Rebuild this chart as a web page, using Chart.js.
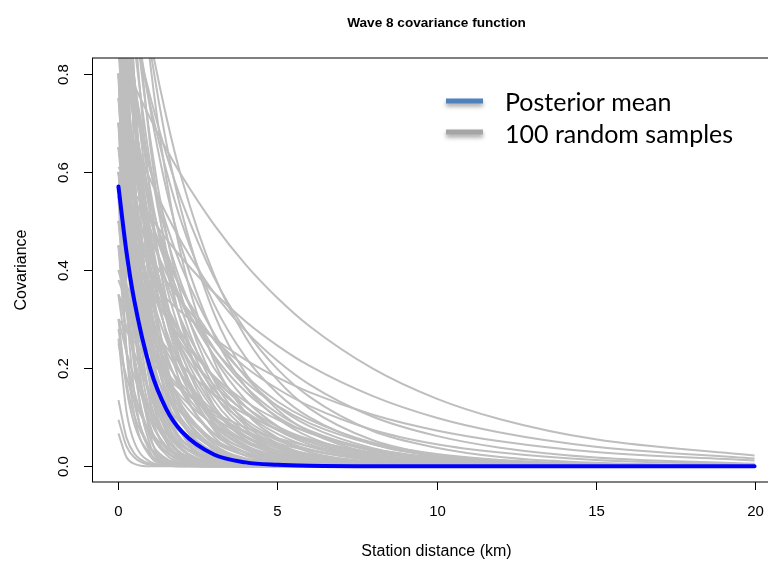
<!DOCTYPE html>
<html>
<head>
<meta charset="utf-8">
<script src="https://cdn.jsdelivr.net/npm/chart.js@4.4.1/dist/chart.umd.min.js"></script>
<style>
html, body { margin: 0; padding: 0; overflow: hidden; background: #fff; }
canvas { display: block; }
</style>
</head>
<body>
<canvas id="covChart" width="800" height="563"></canvas>
<script>
// 텍스트
const chartTitle = 'Wave 8 covariance function';
const xTitle = 'Station distance (km)';
const yTitle = 'Covariance';
const legendLabels = ['Posterior mean', '100 random samples'];
const xTicks = [0, 5, 10, 15, 20];
const yTicks = [0, 0.2, 0.4, 0.6, 0.8];

// 곡선을 읽은 거리 (km)
const distances = [0, 0.25, 0.5, 1, 1.5, 2, 3, 4, 5, 6, 8, 10, 12, 15, 20];

// 파란 선: posterior mean
const posteriorMean = [0.57, 0.438, 0.337, 0.199, 0.117, 0.070, 0.024, 0.008, 0.003, 0.001, 0, 0, 0, 0, 0];

// 회색 선: random samples (같은 거리에서 읽은 값)
const sampleCurves = [
    [0.85, 0.813, 0.776, 0.709, 0.647, 0.591, 0.493, 0.411, 0.343, 0.286, 0.199, 0.138, 0.096, 0.055, 0.022],
    [0.61, 0.583, 0.557, 0.509, 0.464, 0.424, 0.354, 0.295, 0.246, 0.205, 0.143, 0.099, 0.069, 0.040, 0.016],
    [0.75, 0.704, 0.662, 0.584, 0.515, 0.455, 0.354, 0.276, 0.215, 0.167, 0.101, 0.062, 0.038, 0.018, 0.005],
    [0.45, 0.430, 0.411, 0.375, 0.342, 0.313, 0.261, 0.217, 0.181, 0.151, 0.105, 0.073, 0.051, 0.029, 0.012],
    [1.3, 1.177, 1.065, 0.871, 0.714, 0.584, 0.391, 0.263, 0.176, 0.118, 0.053, 0.023, 0.011, 0.003, 0],
    [1.05, 0.966, 0.888, 0.753, 0.637, 0.539, 0.386, 0.277, 0.198, 0.142, 0.072, 0.038, 0.019, 0.007, 0.001],
    [1.1, 0.996, 0.901, 0.737, 0.604, 0.494, 0.331, 0.222, 0.149, 0.100, 0.045, 0.020, 0.009, 0.003, 0],
    [0.55, 0.516, 0.485, 0.428, 0.378, 0.334, 0.260, 0.202, 0.158, 0.123, 0.074, 0.045, 0.028, 0.013, 0.004],
    [0.9, 0.815, 0.737, 0.603, 0.494, 0.404, 0.271, 0.182, 0.122, 0.082, 0.037, 0.016, 0.007, 0.002, 0],
    [1.4, 1.235, 1.091, 0.850, 0.661, 0.515, 0.312, 0.189, 0.115, 0.070, 0.025, 0.009, 0.004, 0.001, 0],
    [0.7, 0.644, 0.592, 0.502, 0.425, 0.359, 0.258, 0.185, 0.132, 0.095, 0.048, 0.025, 0.013, 0.005, 0.001],
    [1.2, 1.058, 0.935, 0.728, 0.566, 0.442, 0.268, 0.162, 0.098, 0.060, 0.022, 0.008, 0.003, 0.001, 0],
    [0.5, 0.46, 0.423, 0.359, 0.304, 0.257, 0.184, 0.132, 0.095, 0.068, 0.035, 0.018, 0.009, 0.003, 0.001],
    [1.6, 1.354, 1.147, 0.821, 0.589, 0.422, 0.216, 0.110, 0.058, 0.029, 0.008, 0.002, 0, 0, 0],
    [0.8, 0.706, 0.623, 0.486, 0.378, 0.294, 0.178, 0.108, 0.066, 0.040, 0.014, 0.005, 0.002, 0, 0],
    [0.6, 0.543, 0.491, 0.402, 0.329, 0.269, 0.181, 0.121, 0.081, 0.055, 0.025, 0.011, 0.005, 0.002, 0],
    [1, 0.846, 0.717, 0.513, 0.368, 0.264, 0.135, 0.069, 0.036, 0.018, 0.005, 0.001, 0, 0, 0],
    [0.4, 0.368, 0.338, 0.287, 0.243, 0.205, 0.147, 0.106, 0.076, 0.054, 0.028, 0.014, 0.007, 0.003, 0.001],
    [0.7, 0.617, 0.545, 0.425, 0.330, 0.258, 0.156, 0.095, 0.057, 0.035, 0.013, 0.005, 0.002, 0, 0],
    [1.3, 1.1, 0.932, 0.667, 0.478, 0.343, 0.176, 0.090, 0.047, 0.023, 0.006, 0.002, 0, 0, 0],
    [0.9, 0.761, 0.645, 0.462, 0.331, 0.238, 0.122, 0.062, 0.032, 0.016, 0.004, 0.001, 0, 0, 0],
    [0.5, 0.441, 0.390, 0.304, 0.236, 0.184, 0.112, 0.068, 0.041, 0.025, 0.009, 0.003, 0.001, 0, 0],
    [1.1, 0.893, 0.725, 0.479, 0.316, 0.208, 0.090, 0.040, 0.017, 0.007, 0.001, 0, 0, 0, 0],
    [0.75, 0.635, 0.538, 0.385, 0.276, 0.198, 0.101, 0.052, 0.027, 0.014, 0.004, 0.001, 0, 0, 0],
    [0.6, 0.508, 0.430, 0.308, 0.221, 0.158, 0.081, 0.041, 0.022, 0.011, 0.003, 0.001, 0, 0, 0],
    [0.35, 0.317, 0.287, 0.235, 0.192, 0.157, 0.105, 0.071, 0.047, 0.032, 0.014, 0.006, 0.003, 0.001, 0],
    [1.5, 1.218, 0.989, 0.653, 0.431, 0.284, 0.123, 0.054, 0.023, 0.010, 0.002, 0, 0, 0, 0],
    [0.8, 0.650, 0.527, 0.348, 0.230, 0.151, 0.066, 0.029, 0.012, 0.005, 0.001, 0, 0, 0, 0],
    [0.65, 0.528, 0.428, 0.283, 0.187, 0.123, 0.053, 0.023, 0.010, 0.004, 0.001, 0, 0, 0, 0],
    [0.5, 0.423, 0.359, 0.257, 0.184, 0.132, 0.068, 0.035, 0.018, 0.009, 0.002, 0.001, 0, 0, 0],
    [0.45, 0.365, 0.297, 0.196, 0.129, 0.085, 0.037, 0.016, 0.007, 0.003, 0.001, 0, 0, 0, 0],
    [1.2, 0.935, 0.728, 0.442, 0.268, 0.162, 0.060, 0.022, 0.008, 0.003, 0, 0, 0, 0, 0],
    [0.9, 0.701, 0.546, 0.331, 0.201, 0.122, 0.045, 0.016, 0.006, 0.002, 0, 0, 0, 0, 0],
    [0.7, 0.545, 0.425, 0.258, 0.156, 0.095, 0.035, 0.013, 0.005, 0.002, 0, 0, 0, 0, 0],
    [0.55, 0.428, 0.334, 0.202, 0.123, 0.074, 0.028, 0.010, 0.004, 0.001, 0, 0, 0, 0, 0],
    [0.4, 0.338, 0.287, 0.205, 0.147, 0.106, 0.054, 0.028, 0.014, 0.007, 0.002, 0.001, 0, 0, 0],
    [1, 0.757, 0.574, 0.329, 0.189, 0.108, 0.036, 0.012, 0.004, 0.001, 0, 0, 0, 0, 0],
    [0.8, 0.606, 0.459, 0.263, 0.151, 0.086, 0.029, 0.010, 0.003, 0.001, 0, 0, 0, 0, 0],
    [0.6, 0.454, 0.344, 0.197, 0.113, 0.065, 0.022, 0.007, 0.002, 0.001, 0, 0, 0, 0, 0],
    [0.35, 0.284, 0.231, 0.152, 0.100, 0.066, 0.029, 0.013, 0.005, 0.002, 0, 0, 0, 0, 0],
    [1.4, 1.025, 0.749, 0.402, 0.214, 0.115, 0.033, 0.009, 0.003, 0.001, 0, 0, 0, 0, 0],
    [1.1, 0.805, 0.589, 0.316, 0.168, 0.090, 0.026, 0.007, 0.002, 0.001, 0, 0, 0, 0, 0],
    [0.85, 0.622, 0.455, 0.244, 0.130, 0.070, 0.020, 0.006, 0.002, 0, 0, 0, 0, 0, 0],
    [0.65, 0.476, 0.348, 0.187, 0.099, 0.053, 0.015, 0.004, 0.001, 0, 0, 0, 0, 0, 0],
    [0.5, 0.366, 0.268, 0.144, 0.077, 0.041, 0.012, 0.003, 0.001, 0, 0, 0, 0, 0, 0],
    [1.6, 1.12, 0.784, 0.384, 0.189, 0.091, 0.022, 0.005, 0.001, 0, 0, 0, 0, 0, 0],
    [1.2, 0.84, 0.588, 0.288, 0.142, 0.068, 0.017, 0.004, 0.001, 0, 0, 0, 0, 0, 0],
    [0.95, 0.665, 0.466, 0.228, 0.112, 0.054, 0.013, 0.003, 0.001, 0, 0, 0, 0, 0, 0],
    [0.75, 0.525, 0.368, 0.180, 0.089, 0.043, 0.011, 0.002, 0.001, 0, 0, 0, 0, 0, 0],
    [0.45, 0.315, 0.221, 0.108, 0.053, 0.026, 0.006, 0.001, 0, 0, 0, 0, 0, 0, 0],
    [1.8, 1.186, 0.783, 0.340, 0.148, 0.065, 0.012, 0.002, 0, 0, 0, 0, 0, 0, 0],
    [1.3, 0.857, 0.566, 0.246, 0.107, 0.047, 0.009, 0.002, 0, 0, 0, 0, 0, 0, 0],
    [1, 0.659, 0.435, 0.189, 0.082, 0.036, 0.007, 0.001, 0, 0, 0, 0, 0, 0, 0],
    [0.7, 0.461, 0.305, 0.132, 0.057, 0.025, 0.005, 0.001, 0, 0, 0, 0, 0, 0, 0],
    [0.5, 0.330, 0.218, 0.095, 0.041, 0.018, 0.003, 0.001, 0, 0, 0, 0, 0, 0, 0],
    [2.0, 1.214, 0.736, 0.270, 0.100, 0.036, 0.005, 0.001, 0, 0, 0, 0, 0, 0, 0],
    [1.4, 0.850, 0.515, 0.189, 0.070, 0.025, 0.004, 0, 0, 0, 0, 0, 0, 0, 0],
    [1, 0.607, 0.368, 0.135, 0.050, 0.018, 0.003, 0, 0, 0, 0, 0, 0, 0, 0],
    [0.8, 0.486, 0.294, 0.108, 0.040, 0.014, 0.002, 0, 0, 0, 0, 0, 0, 0, 0],
    [0.6, 0.364, 0.221, 0.081, 0.030, 0.011, 0.002, 0, 0, 0, 0, 0, 0, 0, 0],
    [0.35, 0.231, 0.152, 0.066, 0.029, 0.013, 0.002, 0, 0, 0, 0, 0, 0, 0, 0],
    [2.2, 1.177, 0.631, 0.180, 0.052, 0.015, 0.001, 0, 0, 0, 0, 0, 0, 0, 0],
    [1.5, 0.803, 0.431, 0.123, 0.035, 0.010, 0.001, 0, 0, 0, 0, 0, 0, 0, 0],
    [1, 0.535, 0.287, 0.082, 0.024, 0.007, 0.001, 0, 0, 0, 0, 0, 0, 0, 0],
    [0.7, 0.375, 0.201, 0.057, 0.016, 0.005, 0, 0, 0, 0, 0, 0, 0, 0, 0],
    [0.45, 0.241, 0.129, 0.037, 0.011, 0.003, 0, 0, 0, 0, 0, 0, 0, 0, 0],
    [1.8, 0.783, 0.340, 0.065, 0.012, 0.002, 0, 0, 0, 0, 0, 0, 0, 0, 0],
    [1.2, 0.522, 0.227, 0.043, 0.008, 0.002, 0, 0, 0, 0, 0, 0, 0, 0, 0],
    [0.8, 0.348, 0.151, 0.029, 0.005, 0.001, 0, 0, 0, 0, 0, 0, 0, 0, 0],
    [0.55, 0.239, 0.104, 0.020, 0.004, 0.001, 0, 0, 0, 0, 0, 0, 0, 0, 0],
    [0.3, 0.161, 0.086, 0.025, 0.007, 0.002, 0, 0, 0, 0, 0, 0, 0, 0, 0],
    [0.28, 0.170, 0.103, 0.038, 0.014, 0.005, 0.001, 0, 0, 0, 0, 0, 0, 0, 0],
    [0.26, 0.113, 0.049, 0.009, 0.002, 0, 0, 0, 0, 0, 0, 0, 0, 0, 0],
    [0.135, 0.059, 0.026, 0.005, 0.001, 0, 0, 0, 0, 0, 0, 0, 0, 0, 0],
    [0.095, 0.041, 0.018, 0.003, 0.001, 0, 0, 0, 0, 0, 0, 0, 0, 0, 0],
    [0.067, 0.019, 0.005, 0, 0, 0, 0, 0, 0, 0, 0, 0, 0, 0, 0],
    [0.25, 0.183, 0.134, 0.072, 0.038, 0.021, 0.006, 0.002, 0, 0, 0, 0, 0, 0, 0],
    [1.1, 0.931, 0.789, 0.564, 0.405, 0.290, 0.149, 0.076, 0.040, 0.020, 0.005, 0.001, 0, 0, 0],
    [0.85, 0.719, 0.609, 0.436, 0.313, 0.224, 0.115, 0.059, 0.031, 0.015, 0.004, 0.001, 0, 0, 0],
    [1, 0.882, 0.779, 0.607, 0.472, 0.368, 0.223, 0.135, 0.082, 0.050, 0.018, 0.007, 0.003, 0.001, 0],
    [0.65, 0.573, 0.506, 0.395, 0.307, 0.239, 0.145, 0.088, 0.053, 0.033, 0.012, 0.004, 0.002, 0, 0],
    [0.8, 0.724, 0.655, 0.536, 0.439, 0.359, 0.241, 0.162, 0.108, 0.073, 0.033, 0.014, 0.007, 0.002, 0],
    [1.2, 0.974, 0.791, 0.522, 0.344, 0.227, 0.098, 0.043, 0.019, 0.008, 0.002, 0, 0, 0, 0],
    [0.95, 0.771, 0.626, 0.413, 0.273, 0.180, 0.078, 0.034, 0.015, 0.006, 0.001, 0, 0, 0, 0],
    [0.6, 0.487, 0.395, 0.261, 0.172, 0.113, 0.049, 0.022, 0.009, 0.004, 0.001, 0, 0, 0, 0],
    [1.5, 1.169, 0.911, 0.552, 0.335, 0.203, 0.075, 0.027, 0.010, 0.004, 0, 0, 0, 0, 0],
    [0.8, 0.623, 0.486, 0.294, 0.178, 0.108, 0.040, 0.014, 0.005, 0.002, 0, 0, 0, 0, 0],
    [0.9, 0.593, 0.392, 0.170, 0.074, 0.032, 0.006, 0.001, 0, 0, 0, 0, 0, 0, 0],
    [1.2, 0.728, 0.442, 0.162, 0.060, 0.022, 0.003, 0, 0, 0, 0, 0, 0, 0, 0],
    [0.3, 0.234, 0.182, 0.110, 0.067, 0.041, 0.015, 0.005, 0.002, 0.001, 0, 0, 0, 0, 0],
    [0.45, 0.397, 0.351, 0.273, 0.212, 0.166, 0.100, 0.061, 0.037, 0.023, 0.008, 0.003, 0.001, 0, 0],
    [0.55, 0.498, 0.450, 0.369, 0.302, 0.247, 0.166, 0.111, 0.074, 0.050, 0.023, 0.010, 0.005, 0.001, 0],
    [0.9, 0.794, 0.701, 0.546, 0.425, 0.331, 0.201, 0.122, 0.074, 0.045, 0.016, 0.006, 0.002, 0.001, 0],
    [0.65, 0.598, 0.550, 0.466, 0.395, 0.333, 0.239, 0.172, 0.123, 0.088, 0.045, 0.023, 0.012, 0.004, 0.001],
    [1.2, 1.015, 0.860, 0.616, 0.442, 0.317, 0.162, 0.083, 0.043, 0.022, 0.006, 0.002, 0, 0, 0],
    [0.7, 0.592, 0.502, 0.359, 0.258, 0.185, 0.095, 0.048, 0.025, 0.013, 0.003, 0.001, 0, 0, 0],
    [0.38, 0.335, 0.296, 0.231, 0.179, 0.140, 0.085, 0.051, 0.031, 0.019, 0.007, 0.003, 0.001, 0, 0],
    [1.05, 0.853, 0.692, 0.457, 0.301, 0.198, 0.086, 0.038, 0.016, 0.007, 0.001, 0, 0, 0, 0],
    [0.75, 0.679, 0.614, 0.503, 0.412, 0.337, 0.226, 0.152, 0.101, 0.068, 0.031, 0.014, 0.006, 0.002, 0],
    [0.3, 0.276, 0.254, 0.215, 0.182, 0.154, 0.110, 0.079, 0.057, 0.041, 0.021, 0.011, 0.005, 0.002, 0]
];

// 색상
const meanColor = '#0000FF';
const sampleColor = '#BEBEBE';
const legendColors = ['#4F81BD', '#A5A5A5'];

function toPoints(values) {
    return distances.map((d, i) => ({ x: d, y: values[i] }));
}

// 0번 dataset 이 가장 위에 그려짐
const datasets = [{
    label: legendLabels[0],
    data: toPoints(posteriorMean),
    borderColor: meanColor,
    borderWidth: 4,
    borderCapStyle: 'round',
    clip: 0
}];
sampleCurves.forEach(curve => {
    datasets.push({
        label: legendLabels[1],
        data: toPoints(curve),
        borderColor: sampleColor,
        borderWidth: 2,
        clip: 0
    });
});

// R base graphics 스타일 축, 제목, 범례
const rStylePlugin = {
    id: 'rStyle',
    afterDatasetsDraw(chart) {
        const { ctx, chartArea: a, scales: { x, y } } = chart;
        const tickFont = '15px "Liberation Sans", Arial, sans-serif';
        const labelFont = '16px "Liberation Sans", Arial, sans-serif';
        ctx.save();
        ctx.strokeStyle = '#000';
        ctx.fillStyle = '#000';
        ctx.lineWidth = 1;

        // 박스
        ctx.strokeRect(a.left - 0.5, a.top, a.right - a.left, a.bottom - a.top);

        // y 축
        ctx.font = tickFont;
        ctx.textAlign = 'center';
        ctx.textBaseline = 'middle';
        yTicks.forEach(v => {
            const py = Math.round(y.getPixelForValue(v)) + 0.5;
            ctx.beginPath();
            ctx.moveTo(a.left - 0.5, py);
            ctx.lineTo(a.left - 9, py);
            ctx.stroke();
            ctx.save();
            ctx.translate(64, py);
            ctx.rotate(-Math.PI / 2);
            ctx.fillText(v.toFixed(1), 0, 0);
            ctx.restore();
        });

        // x 축
        xTicks.forEach(v => {
            const px = Math.round(x.getPixelForValue(v)) + 0.5;
            ctx.beginPath();
            ctx.moveTo(px, a.bottom);
            ctx.lineTo(px, a.bottom + 8);
            ctx.stroke();
            ctx.fillText(String(v), px, 512);
        });

        // 축 제목
        const midX = (a.left + a.right) / 2;
        ctx.font = labelFont;
        ctx.fillText(xTitle, midX, 552);
        ctx.save();
        ctx.translate(22, (a.top + a.bottom) / 2);
        ctx.rotate(-Math.PI / 2);
        ctx.fillText(yTitle, 0, 0);
        ctx.restore();

        ctx.font = 'bold 13.6px "Liberation Sans", Arial, sans-serif';
        ctx.fillText(chartTitle, midX, 23);

        // 범례
        ctx.font = '100px Lato, "Open Sans", sans-serif';
        const size = Math.round(225 / ctx.measureText(legendLabels[1]).width * 100);
        ctx.font = size + 'px Lato, "Open Sans", sans-serif';
        ctx.textAlign = 'left';
        ctx.textBaseline = 'alphabetic';
        legendLabels.forEach((label, i) => {
            const ly = 101 + i * 31;
            ctx.save();
            ctx.shadowColor = 'rgba(0,0,0,0.35)';
            ctx.shadowBlur = 4;
            ctx.shadowOffsetY = 3;
            ctx.fillStyle = legendColors[i];
            ctx.fillRect(446, ly - 2.5, 37, 5);
            ctx.restore();
            ctx.fillText(label, 505, ly + 10 + i);
        });
        ctx.restore();
    }
};

document.addEventListener('DOMContentLoaded', function() {
    const ctx = document.getElementById('covChart').getContext('2d');
    new Chart(ctx, {
        type: 'line',
        data: { datasets },
        options: {
            responsive: false,
            animation: false,
            events: [],
            layout: { padding: { left: 93, right: 20, top: 58, bottom: 81 } },
            elements: {
                point: { radius: 0 },
                line: { cubicInterpolationMode: 'monotone' }
            },
            scales: {
                x: { type: 'linear', min: -0.8, max: 20.8, display: false },
                y: { min: -0.032, max: 0.832, display: false }
            },
            plugins: {
                legend: { display: false },
                tooltip: { enabled: false }
            }
        },
        plugins: [rStylePlugin]
    });
});
</script>
</body>
</html>
